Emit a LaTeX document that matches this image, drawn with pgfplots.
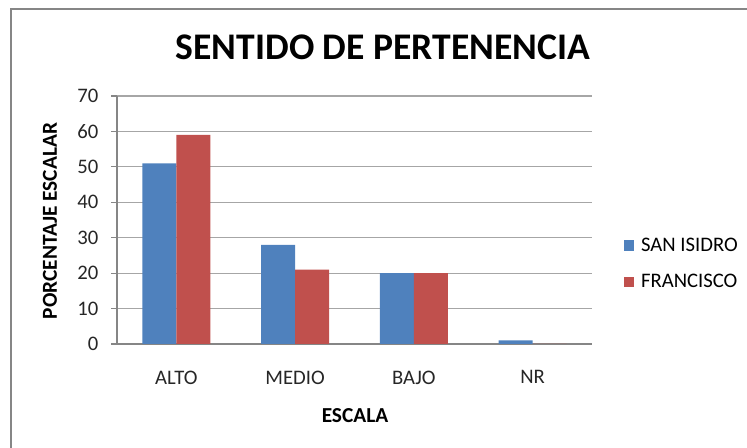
\documentclass[border=0pt]{standalone}
\usepackage{fontspec}
\setmainfont{Carlito}
\usepackage{pgfplots}
\pgfplotsset{compat=1.18}
\definecolor{sblue}{HTML}{4F81BD}
\definecolor{sred}{HTML}{C0504D}
\definecolor{gridg}{HTML}{A6A6A6}
\definecolor{axg}{HTML}{868686}
\begin{document}
\begin{tikzpicture}[x=0.75pt,y=0.75pt]
\useasboundingbox (0,0) rectangle (747,448);
\draw[axg,line width=1.1pt] (11,0) -- (11,439) -- (747,439);
\begin{axis}[
  at={(117pt*0.75,104pt*0.75)}, anchor=south west,
  scale only axis, width=356.25pt, height=186pt,
  ybar=0pt, bar width=25.5pt,
  ymin=0, ymax=70, ytick={0,10,...,70},
  xmin=-0.5, xmax=3.5, xtick=data,
  xticklabels={ALTO,MEDIO,BAJO,NR},
  axis x line*=bottom, axis y line*=left,
  axis line style={axg, line width=0.9pt, -},
  ymajorgrids, grid style={gridg, line width=0.9pt},
  y tick style={axg, line width=0.9pt}, major tick length=4.5pt,
  x tick style={draw=none},
  tick align=outside,
  /pgf/number format/assume math mode=true,
  ticklabel style={font=\fontsize{15.5}{18}\selectfont, text=black!85},
  yticklabel style={xshift=-6pt},
  xticklabel style={yshift=-12pt},
  legend style={at={(1.059,0.323)}, anchor=west, draw=none, fill=none,
    font=\fontsize{15.5}{18}\selectfont, row sep=12pt,
    legend cell align=left,
    /tikz/every odd column/.append style={column sep=3pt}},
  legend image code/.code={\fill[#1] (0pt,-3.8pt) rectangle (7.6pt,3.8pt);},
  clip=false,
]
\addplot[fill=sblue, draw=none] coordinates {(0,51) (1,28) (2,20) (3,1)};
\addplot[fill=sred, draw=none] coordinates {(0,59) (1,21) (2,20) (3,0)};
\legend{SAN ISIDRO, FRANCISCO}
\end{axis}
\node[font=\fontsize{28.2}{33}\bfseries\selectfont] at (383,401) {SENTIDO DE PERTENENCIA};
\node[font=\fontsize{16}{19}\bfseries\selectfont, rotate=90] at (50,227) {PORCENTAJE ESCALAR};
\node[font=\fontsize{16}{19}\bfseries\selectfont] at (355,32) {ESCALA};
\end{tikzpicture}
\end{document}
